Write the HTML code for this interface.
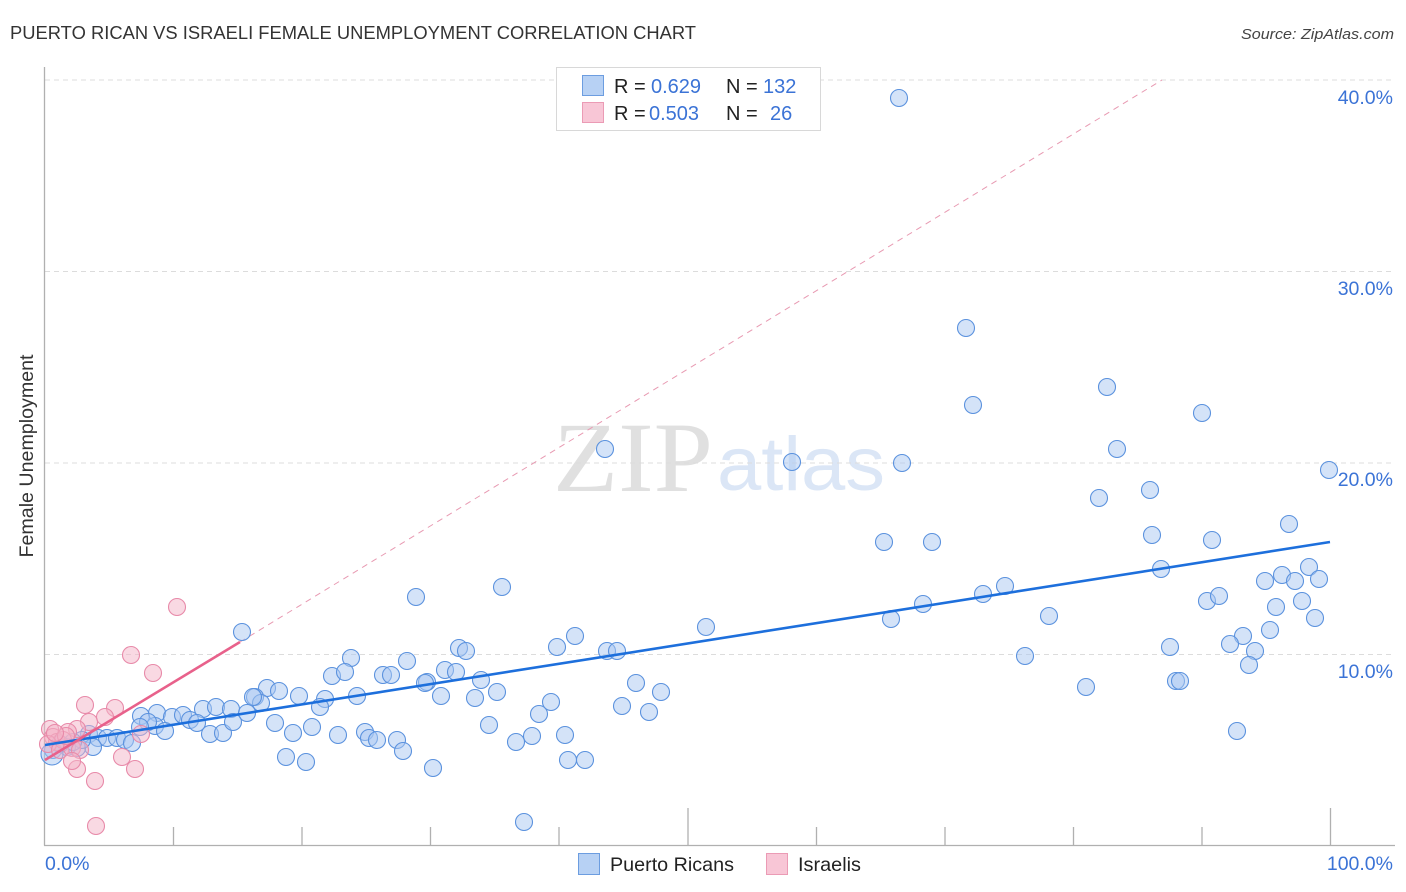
<!DOCTYPE html>
<html><head><meta charset="utf-8"><style>
html,body{margin:0;padding:0;background:#fff;}
svg{display:block;}
.s{font-family:"Liberation Sans",sans-serif;}
.serif{font-family:"Liberation Serif",serif;}
</style></head><body>
<svg width="1406" height="892" viewBox="0 0 1406 892" xmlns="http://www.w3.org/2000/svg">
<rect width="1406" height="892" fill="#fff"/>
<text class="s" x="10" y="39" font-size="18" fill="#333" textLength="686" lengthAdjust="spacingAndGlyphs">PUERTO RICAN VS ISRAELI FEMALE UNEMPLOYMENT CORRELATION CHART</text>
<text class="s" x="1394" y="39" font-size="15" fill="#444" font-style="italic" text-anchor="end" textLength="153" lengthAdjust="spacingAndGlyphs">Source: ZipAtlas.com</text>

<text class="serif" x="553" y="491" font-size="100" fill="#e0e0e0" textLength="160" lengthAdjust="spacingAndGlyphs">ZIP</text>
<text class="s" x="717" y="490" font-size="76" fill="#dbe6f6" textLength="168" lengthAdjust="spacingAndGlyphs">atlas</text>

<g stroke="#dcdcdc" stroke-width="1" stroke-dasharray="5,4">
<line x1="45" y1="80" x2="1393" y2="80"/>
<line x1="45" y1="271.5" x2="1393" y2="271.5"/>
<line x1="45" y1="463" x2="1393" y2="463"/>
<line x1="45" y1="654.5" x2="1393" y2="654.5"/>
</g>

<g stroke="#b0b0b0" stroke-width="1.3">
<line x1="44.5" y1="67" x2="44.5" y2="845.5"/>
<line x1="44" y1="845.5" x2="1395" y2="845.5"/>
<line x1="173.5" y1="827" x2="173.5" y2="845"/>
<line x1="302" y1="827" x2="302" y2="845"/>
<line x1="430.5" y1="827" x2="430.5" y2="845"/>
<line x1="559" y1="827" x2="559" y2="845"/>
<line x1="688" y1="808" x2="688" y2="845"/>
<line x1="816.5" y1="827" x2="816.5" y2="845"/>
<line x1="945" y1="827" x2="945" y2="845"/>
<line x1="1073.5" y1="827" x2="1073.5" y2="845"/>
<line x1="1202" y1="827" x2="1202" y2="845"/>
<line x1="1330.5" y1="808" x2="1330.5" y2="845"/>
</g>

<line x1="240" y1="642" x2="1162" y2="80" stroke="#e89ab2" stroke-width="1" stroke-dasharray="6,5"/>

<g fill="#a9c8f1" fill-opacity="0.5" stroke="#5b92de" stroke-width="1.1">
<circle cx="899" cy="98" r="8.5"/>
<circle cx="966" cy="328" r="8.5"/>
<circle cx="973" cy="405" r="8.5"/>
<circle cx="1107" cy="387" r="8.5"/>
<circle cx="1202" cy="413" r="8.5"/>
<circle cx="1117" cy="449" r="8.5"/>
<circle cx="605" cy="449" r="8.5"/>
<circle cx="792" cy="462" r="8.5"/>
<circle cx="902" cy="463" r="8.5"/>
<circle cx="1329" cy="470" r="8.5"/>
<circle cx="1099" cy="498" r="8.5"/>
<circle cx="1150" cy="490" r="8.5"/>
<circle cx="1289" cy="524" r="8.5"/>
<circle cx="884" cy="542" r="8.5"/>
<circle cx="932" cy="542" r="8.5"/>
<circle cx="1152" cy="535" r="8.5"/>
<circle cx="1212" cy="540" r="8.5"/>
<circle cx="1005" cy="586" r="8.5"/>
<circle cx="983" cy="594" r="8.5"/>
<circle cx="923" cy="604" r="8.5"/>
<circle cx="891" cy="619" r="8.5"/>
<circle cx="1161" cy="569" r="8.5"/>
<circle cx="1265" cy="581" r="8.5"/>
<circle cx="1282" cy="575" r="8.5"/>
<circle cx="1295" cy="581" r="8.5"/>
<circle cx="1309" cy="567" r="8.5"/>
<circle cx="1319" cy="579" r="8.5"/>
<circle cx="1207" cy="601" r="8.5"/>
<circle cx="1219" cy="596" r="8.5"/>
<circle cx="1276" cy="607" r="8.5"/>
<circle cx="1302" cy="601" r="8.5"/>
<circle cx="1049" cy="616" r="8.5"/>
<circle cx="1315" cy="618" r="8.5"/>
<circle cx="1270" cy="630" r="8.5"/>
<circle cx="1243" cy="636" r="8.5"/>
<circle cx="1230" cy="644" r="8.5"/>
<circle cx="1255" cy="651" r="8.5"/>
<circle cx="1249" cy="665" r="8.5"/>
<circle cx="1170" cy="647" r="8.5"/>
<circle cx="1025" cy="656" r="8.5"/>
<circle cx="1086" cy="687" r="8.5"/>
<circle cx="1176" cy="681" r="8.5"/>
<circle cx="1180" cy="681" r="8.5"/>
<circle cx="1237" cy="731" r="8.5"/>
<circle cx="502" cy="587" r="8.5"/>
<circle cx="416" cy="597" r="8.5"/>
<circle cx="242" cy="632" r="8.5"/>
<circle cx="706" cy="627" r="8.5"/>
<circle cx="351" cy="658" r="8.5"/>
<circle cx="332" cy="676" r="8.5"/>
<circle cx="345" cy="672" r="8.5"/>
<circle cx="383" cy="675" r="8.5"/>
<circle cx="391" cy="675" r="8.5"/>
<circle cx="407" cy="661" r="8.5"/>
<circle cx="459" cy="648" r="8.5"/>
<circle cx="466" cy="651" r="8.5"/>
<circle cx="557" cy="647" r="8.5"/>
<circle cx="575" cy="636" r="8.5"/>
<circle cx="607" cy="651" r="8.5"/>
<circle cx="617" cy="651" r="8.5"/>
<circle cx="267" cy="688" r="8.5"/>
<circle cx="279" cy="691" r="8.5"/>
<circle cx="255" cy="697" r="8.5"/>
<circle cx="261" cy="703" r="8.5"/>
<circle cx="299" cy="696" r="8.5"/>
<circle cx="325" cy="699" r="8.5"/>
<circle cx="320" cy="707" r="8.5"/>
<circle cx="357" cy="696" r="8.5"/>
<circle cx="445" cy="670" r="8.5"/>
<circle cx="456" cy="672" r="8.5"/>
<circle cx="427" cy="682" r="8.5"/>
<circle cx="425" cy="683" r="8.5"/>
<circle cx="481" cy="680" r="8.5"/>
<circle cx="441" cy="696" r="8.5"/>
<circle cx="475" cy="698" r="8.5"/>
<circle cx="497" cy="692" r="8.5"/>
<circle cx="275" cy="723" r="8.5"/>
<circle cx="293" cy="733" r="8.5"/>
<circle cx="312" cy="727" r="8.5"/>
<circle cx="338" cy="735" r="8.5"/>
<circle cx="365" cy="732" r="8.5"/>
<circle cx="369" cy="738" r="8.5"/>
<circle cx="377" cy="740" r="8.5"/>
<circle cx="397" cy="740" r="8.5"/>
<circle cx="403" cy="751" r="8.5"/>
<circle cx="489" cy="725" r="8.5"/>
<circle cx="286" cy="757" r="8.5"/>
<circle cx="306" cy="762" r="8.5"/>
<circle cx="433" cy="768" r="8.5"/>
<circle cx="516" cy="742" r="8.5"/>
<circle cx="532" cy="736" r="8.5"/>
<circle cx="539" cy="714" r="8.5"/>
<circle cx="551" cy="702" r="8.5"/>
<circle cx="565" cy="735" r="8.5"/>
<circle cx="568" cy="760" r="8.5"/>
<circle cx="585" cy="760" r="8.5"/>
<circle cx="636" cy="683" r="8.5"/>
<circle cx="661" cy="692" r="8.5"/>
<circle cx="622" cy="706" r="8.5"/>
<circle cx="649" cy="712" r="8.5"/>
<circle cx="524" cy="822" r="8.5"/>
<circle cx="141" cy="716" r="8.5"/>
<circle cx="157" cy="713" r="8.5"/>
<circle cx="172" cy="717" r="8.5"/>
<circle cx="183" cy="715" r="8.5"/>
<circle cx="190" cy="720" r="8.5"/>
<circle cx="203" cy="709" r="8.5"/>
<circle cx="216" cy="707" r="8.5"/>
<circle cx="231" cy="709" r="8.5"/>
<circle cx="247" cy="713" r="8.5"/>
<circle cx="253" cy="697" r="8.5"/>
<circle cx="197" cy="723" r="8.5"/>
<circle cx="210" cy="734" r="8.5"/>
<circle cx="223" cy="733" r="8.5"/>
<circle cx="233" cy="722" r="8.5"/>
<circle cx="155" cy="726" r="8.5"/>
<circle cx="148" cy="722" r="8.5"/>
<circle cx="140" cy="727" r="8.5"/>
<circle cx="165" cy="731" r="8.5"/>
<circle cx="89" cy="734" r="8.5"/>
<circle cx="98" cy="738" r="8.5"/>
<circle cx="107" cy="738" r="8.5"/>
<circle cx="117" cy="738" r="8.5"/>
<circle cx="125" cy="740" r="8.5"/>
<circle cx="132" cy="743" r="8.5"/>
<circle cx="93" cy="747" r="8.5"/>
<circle cx="77" cy="748" r="8.5"/>
<circle cx="67" cy="747" r="8.5"/>
<circle cx="53" cy="750" r="8.5"/>
<circle cx="82" cy="740" r="8.5"/>
<circle cx="73" cy="742" r="8.5"/>
<circle cx="60" cy="744" r="8.5"/>
<circle cx="52" cy="754" r="11"/>
</g>

<g fill="#f4b3c8" fill-opacity="0.5" stroke="#e88aa9" stroke-width="1.1">
<circle cx="177" cy="607" r="8.5"/>
<circle cx="131" cy="655" r="8.5"/>
<circle cx="153" cy="673" r="8.5"/>
<circle cx="85" cy="705" r="8.5"/>
<circle cx="115" cy="708" r="8.5"/>
<circle cx="105" cy="717" r="8.5"/>
<circle cx="89" cy="722" r="8.5"/>
<circle cx="77" cy="729" r="8.5"/>
<circle cx="68" cy="732" r="8.5"/>
<circle cx="50" cy="729" r="8.5"/>
<circle cx="53" cy="737" r="8.5"/>
<circle cx="57" cy="742" r="8.5"/>
<circle cx="63" cy="740" r="8.5"/>
<circle cx="48" cy="744" r="8.5"/>
<circle cx="60" cy="750" r="8.5"/>
<circle cx="72" cy="748" r="8.5"/>
<circle cx="80" cy="750" r="8.5"/>
<circle cx="122" cy="757" r="8.5"/>
<circle cx="135" cy="769" r="8.5"/>
<circle cx="77" cy="769" r="8.5"/>
<circle cx="72" cy="761" r="8.5"/>
<circle cx="95" cy="781" r="8.5"/>
<circle cx="96" cy="826" r="8.5"/>
<circle cx="141" cy="734" r="8.5"/>
<circle cx="66" cy="736" r="8.5"/>
<circle cx="55" cy="733" r="8.5"/>
</g>

<line x1="45" y1="745" x2="1330" y2="542" stroke="#1d6fdc" stroke-width="2.6"/>
<line x1="45" y1="760" x2="240" y2="642" stroke="#e8618b" stroke-width="2.6"/>

<g class="s" font-size="19.5" fill="#3b73d6" text-anchor="end">
<text x="1393" y="104">40.0%</text>
<text x="1393" y="295">30.0%</text>
<text x="1393" y="486">20.0%</text>
<text x="1393" y="678">10.0%</text>
<text x="1393" y="870">100.0%</text>
</g>
<text class="s" x="45" y="870" font-size="19.5" fill="#3b73d6">0.0%</text>

<text class="s" transform="translate(33,456) rotate(-90)" font-size="19" fill="#333" text-anchor="middle" textLength="203" lengthAdjust="spacingAndGlyphs">Female Unemployment</text>

<rect x="556.5" y="67.5" width="264" height="63" fill="#fff" stroke="#d8d8d8" stroke-width="1"/>
<rect x="582.5" y="75.5" width="21" height="20" fill="#b7d1f4" stroke="#6c9de0" stroke-width="1"/>
<rect x="582.5" y="102.5" width="21" height="20" fill="#f8c6d6" stroke="#eb9bb5" stroke-width="1"/>
<g class="s" font-size="20">
<text x="614" y="93" fill="#222">R =</text>
<text x="651" y="93" fill="#3b73d6">0.629</text>
<text x="726" y="93" fill="#222">N =</text>
<text x="763" y="93" fill="#3b73d6">132</text>
<text x="614" y="120" fill="#222">R =</text>
<text x="649" y="120" fill="#3b73d6">0.503</text>
<text x="726" y="120" fill="#222">N =</text>
<text x="770" y="120" fill="#3b73d6">26</text>
</g>

<rect x="578.5" y="853.5" width="21" height="21" fill="#b7d1f4" stroke="#6c9de0" stroke-width="1"/>
<text class="s" x="610" y="871" font-size="19.5" fill="#222" textLength="124" lengthAdjust="spacingAndGlyphs">Puerto Ricans</text>
<rect x="766.5" y="853.5" width="21" height="21" fill="#f8c6d6" stroke="#eb9bb5" stroke-width="1"/>
<text class="s" x="798" y="871" font-size="19.5" fill="#222" textLength="63" lengthAdjust="spacingAndGlyphs">Israelis</text>
</svg>
</body></html>
